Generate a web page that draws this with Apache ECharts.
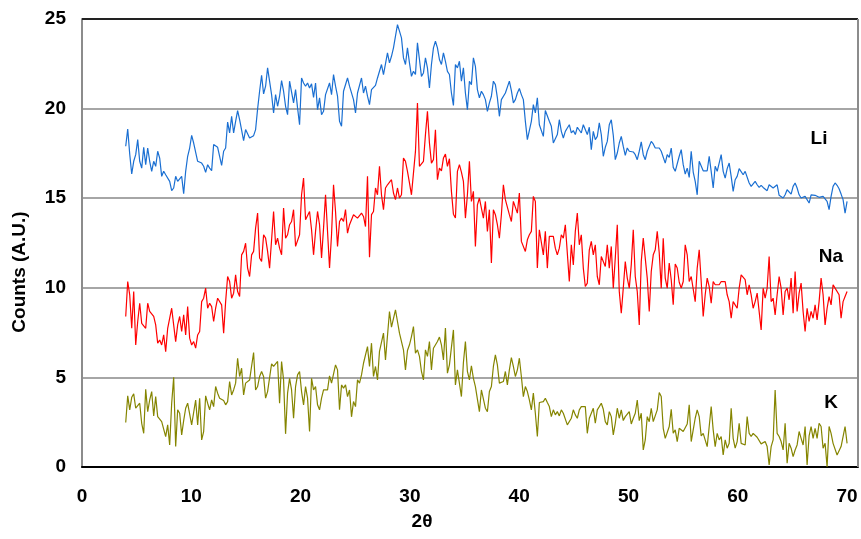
<!DOCTYPE html>
<html>
<head>
<meta charset="utf-8">
<script src="https://cdn.jsdelivr.net/npm/echarts@6/dist/echarts.min.js"></script>
<style>html,body{margin:0;padding:0;background:#fff}#c{width:861px;height:539px}</style>
</head>
<body>
<div id="c"></div>
<script>
// 2θ scan: from 4 to 70, evenly spaced samples
const scanStart = 4, scanEnd = 70;
const yTicks = [0, 5, 10, 15, 20, 25];
const xTicks = [0, 10, 20, 30, 40, 50, 60, 70];
const seriesNames = ['Li', 'Na', 'K'];

const liCounts = [
17.9,18.86,17.47,16.35,17.06,17.43,18.27,17.06,16.68,17.84,
16.87,17.8,17.06,16.5,17.06,16.78,17.62,17.24,16.22,16.5,
16.31,16.4,15.94,15.42,15.57,16.22,15.94,16.03,16.22,15.25,
16.5,17.34,17.8,18.51,18.08,18.17,17.06,17.06,16.96,16.78,
16.44,16.87,16.68,16.54,17.99,18.08,17.84,17.9,16.83,17.62,
17.8,19.25,18.64,19.57,18.64,19.29,19.89,19.38,19.44,18.21,
18.83,18.73,18.36,18.32,18.49,18.83,19.98,20.97,21.86,20.82,
21.25,22.27,22.23,20.78,19.76,20.78,20.13,20.69,21.56,20.97,
20.13,19.66,21.53,21.43,20.32,21.06,20.04,19.1,21.71,21.43,
21.25,21.43,21.15,21.38,20.63,21.43,19.94,20.6,
19.66,19.85,20.78,20.87,21.43,20.78,21.9,21.25,20.69,19.29,
19.01,20.97,20.97,21.71,21.25,21.25,20.5,19.76,20.87,20.78,
21.71,20.87,21.25,20.69,20.22,21.06,21.12,21.3,21.71,21.8,
22.46,21.9,21.8,23.11,22.55,22.92,23.39,24.04,24.69,24.32,
23.95,22.83,22.46,23.39,22.55,21.8,22.08,21.9,23.67,22.74,
21.8,21.99,22.83,22.27,21.15,22.46,23.39,23.76,23.39,22.74,
22.46,23.11,22.64,22.08,21.9,20.87,20.18,22.46,22.27,22.64,
21.53,22.27,20.87,19.94,21.53,21.34,22.83,22.36,21.06,20.6,
20.97,20.78,20.5,19.85,20.32,20.69,21.53,21.34,20.6,19.57,
20.5,20.41,20.87,20.87,21.53,
21.0,20.32,20.5,20.87,21.12,20.78,20.5,19.29,18.27,18.17,
19.29,20.22,19.76,20.6,19.1,19.1,18.45,19.89,19.94,19.29,
19.01,18.08,18.17,18.55,19.38,18.73,18.36,18.73,18.92,19.1,
18.64,18.77,18.55,18.96,19.01,18.64,19.1,19.07,18.55,18.96,
17.71,18.73,18.27,18.45,19.2,18.55,17.34,17.84,18.17,19.1,
19.38,18.51,17.15,17.52,18.08,18.45,17.89,17.39,17.8,17.62,
17.52,17.58,17.43,17.15,17.62,18.14,17.43,17.15,17.62,17.65,
18.17,18.03,17.8,17.76,17.8,17.62,17.62,16.96,17.43,17.28,
17.8,16.72,16.5,16.53,17.34,17.71,16.87,16.35,16.68,16.16,
17.62,16.46,15.94,15.19,17.06,
17.06,16.53,16.5,16.53,17.34,16.5,15.57,16.78,16.5,16.4,
17.43,16.5,16.12,16.65,16.96,16.22,15.38,16.03,16.22,16.65,
16.59,16.31,16.5,16.46,15.85,15.66,15.66,15.94,15.75,15.6,
15.72,15.6,15.57,15.42,15.75,15.72,15.57,15.6,15.75,15.16,
15.1,15.01,15.19,15.47,15.57,15.23,15.66,15.85,15.57,15.19,
15.01,15.1,15.1,15.19,14.73,15.19,15.16,15.16,15.19,15.05,
15.05,15.1,15.05,14.82,14.36,15.1,15.66,15.85,15.72,15.53,
15.23,14.92,14.17,14.82
];

const naCounts = [
8.4,10.35,9.61,7.74,9.79,6.81,8.12,9.14,8.02,7.93,
7.74,9.14,8.68,8.58,8.4,7.93,6.91,7.09,6.81,7.37,
6.44,7.74,7.65,8.86,8.95,7.0,7.93,8.4,7.56,8.49,
7.37,8.95,7.19,6.81,7.0,6.63,7.37,7.56,9.23,9.42,
9.98,8.86,9.14,8.95,8.12,8.86,9.42,9.33,9.05,7.47,
9.23,10.63,10.35,9.42,9.7,10.72,9.79,9.51,11.84,12.03,
12.49,11.1,10.63,11.84,12.03,13.33,14.17,11.66,11.47,12.96,
12.77,12.03,11.1,12.68,14.26,12.4,12.77,12.21,11.84,14.45,
12.77,12.96,13.52,13.7,14.36,12.31,12.21,12.96,15.19,16.12,
13.8,13.7,14.26,13.24,11.84,13.15,14.26,13.52,
11.66,13.33,15.19,15.1,11.1,12.96,15.75,14.26,12.31,13.7,
13.89,13.7,14.36,13.05,13.52,13.52,14.08,13.98,13.89,13.98,
14.17,13.98,13.42,16.22,11.7,14.08,14.26,15.57,15.19,16.78,
15.19,14.36,15.57,15.75,15.66,16.03,15.29,14.92,15.57,15.01,
15.19,17.24,17.06,16.5,15.85,15.19,16.4,17.61,20.31,16.78,
16.78,17.06,18.55,19.85,18.08,16.96,17.15,18.82,16.03,16.68,
16.53,17.24,17.46,16.78,17.2,15.38,14.11,13.89,16.5,16.87,
16.46,15.94,13.89,15.19,17.06,14.82,15.38,12.31,14.63,15.01,
14.45,13.89,14.82,13.15,14.36,11.38,14.36,14.08,13.52,12.77,
14.08,15.75,14.92,14.92,14.08,
13.7,14.82,14.92,14.17,15.29,12.59,12.59,12.03,12.68,12.96,
13.15,15.1,14.82,11.1,13.24,13.15,11.84,13.15,11.1,12.87,
12.81,12.87,12.21,11.84,12.21,12.96,12.77,13.52,13.52,10.35,
12.4,11.28,13.15,14.17,12.4,12.96,11.1,10.07,10.26,12.12,
12.59,11.84,12.4,10.63,10.17,11.75,11.75,11.19,12.4,11.1,
12.31,9.98,11.66,13.52,9.79,8.58,9.98,11.47,10.54,9.98,
11.28,13.24,10.63,9.79,7.93,11.47,12.77,12.77,10.54,8.68,
10.91,11.84,12.12,13.15,11.94,9.98,12.77,10.54,9.98,11.38,
10.45,9.05,11.32,11.1,10.31,9.98,10.35,12.4,11.84,10.35,
10.63,10.63,9.23,11.1,12.12,
10.35,8.4,9.61,10.54,10.07,9.14,10.35,10.17,10.17,10.17,
10.35,10.26,10.35,9.61,9.23,8.3,9.23,9.23,8.86,9.98,
10.72,10.72,10.45,9.61,10.17,9.61,8.86,9.23,9.7,9.61,
7.65,9.98,9.42,9.98,11.75,9.23,9.42,8.49,9.61,10.63,
9.98,8.49,9.79,9.98,9.33,10.54,8.58,10.91,8.68,9.7,
10.26,8.68,7.56,8.86,8.12,8.68,8.3,9.05,8.21,9.23,
10.54,9.61,7.93,8.86,9.51,9.05,10.17,9.98,9.89,9.61,
8.3,9.23,9.51,9.79
];

const kCounts = [
2.48,3.97,3.19,3.89,4.08,3.28,3.37,3.56,2.44,1.88,
4.34,3.09,3.74,4.21,2.85,3.93,2.81,2.81,2.53,2.44,
1.7,2.35,1.23,3.56,5.01,1.14,3.19,3.0,1.79,2.59,
3.28,3.56,3.47,2.35,2.35,3.74,2.35,3.84,1.51,1.98,
3.97,3.56,3.19,3.74,3.37,4.49,4.12,3.84,3.84,3.71,
3.47,3.65,4.77,4.02,4.3,4.68,6.07,5.05,5.51,4.02,
4.68,4.58,4.86,4.86,6.39,4.3,4.49,5.05,5.33,5.05,
3.84,4.21,4.21,5.76,5.61,5.51,5.89,3.56,5.89,4.86,
1.85,4.12,4.95,4.3,2.72,4.49,5.14,5.33,4.21,3.47,
4.49,3.84,1.98,4.95,4.3,4.49,3.47,3.19,
3.84,4.3,4.21,4.3,5.09,4.68,4.68,5.7,5.42,3.2,
4.58,4.4,4.58,3.93,4.3,2.8,3.65,3.37,4.86,4.68,
5.14,5.79,5.79,6.72,5.61,6.91,5.05,5.61,4.86,6.45,
6.45,7.47,5.98,6.07,8.68,7.8,7.75,8.77,8.12,7.47,
7.56,6.54,5.42,6.5,6.82,7.28,7.84,6.35,6.54,6.17,
5.33,4.86,6.54,6.17,7.0,5.42,6.63,6.63,7.0,7.25,
6.82,5.98,7.75,5.24,5.7,5.79,7.65,4.58,5.42,5.33,
3.93,5.83,7.0,5.33,4.86,5.65,4.95,4.49,4.58,3.09,
4.3,4.21,3.28,3.09,4.21,4.49,5.61,6.26,5.7,4.68,
4.68,4.77,5.33,4.58,5.42,
6.1,5.61,5.05,5.42,6.07,5.05,3.93,4.49,4.21,3.74,
3.19,4.12,3.0,1.7,3.6,3.56,3.65,3.84,3.6,3.37,
2.81,3.19,2.91,3.09,2.85,3.19,3.0,2.91,2.35,2.44,
2.72,3.19,2.91,2.72,3.19,3.37,3.37,3.37,1.88,2.72,
2.72,3.28,2.44,3.19,3.37,3.56,3.22,2.53,2.35,3.09,
2.81,1.79,2.44,3.28,2.72,3.19,2.59,2.81,2.78,3.09,
2.4,2.72,3.0,3.74,2.59,3.0,0.95,1.51,2.81,2.53,
3.28,2.53,2.59,3.19,4.16,3.93,2.16,1.6,1.66,2.26,
3.22,1.88,2.07,1.42,2.16,2.07,1.98,1.98,2.4,3.47,
1.42,2.07,2.72,3.19,2.81,
1.73,1.88,1.88,1.14,2.26,3.37,2.07,1.14,1.88,1.51,
1.7,0.67,1.51,1.05,1.32,3.28,1.6,1.05,1.42,2.44,
1.32,1.23,1.23,2.81,1.88,1.7,1.88,1.88,1.66,1.7,
1.29,1.32,1.42,1.14,0.11,1.14,1.51,4.3,1.88,1.7,
1.42,0.95,2.44,0.21,1.32,1.05,0.58,0.95,1.23,1.98,
1.6,1.23,2.26,0.11,1.73,2.26,1.6,2.16,1.6,2.44,
2.26,1.05,1.32,0.02,2.26,1.88,1.32,1.23,0.67,0.67,
1.14,1.7,2.26,1.32
];

function pairs(vals) {
  const step = (scanEnd - scanStart) / (vals.length - 1);
  return vals.map((v, i) => [scanStart + i * step, v]);
}

const FONT = '"Liberation Sans", Arial, sans-serif';
const chart = echarts.init(document.getElementById('c'), null, { renderer: 'canvas' });
const colors = ['#1a6fd2', '#ff0000', '#858500'];
const allSeries = [liCounts, naCounts, kCounts];

chart.setOption({
  animation: false,
  backgroundColor: '#ffffff',
  grid: { left: 82, right: 3, top: 19, bottom: 72, containLabel: false },
  xAxis: {
    type: 'value', min: 0, max: 71, interval: 10,
    axisLine: { show: true, lineStyle: { color: '#000', width: 2 } },
    axisTick: { show: false },
    splitLine: { show: false },
    axisLabel: {
      margin: 20, color: '#000', fontFamily: FONT, fontWeight: 'bold', fontSize: 19,
      formatter: v => (xTicks.indexOf(v) >= 0 ? String(v) : '')
    }
  },
  yAxis: {
    type: 'value', min: 0, max: 25, interval: 5,
    axisLine: { show: true, lineStyle: { color: '#8c8c8c', width: 2 } },
    axisTick: { show: false },
    splitLine: { show: true, lineStyle: { color: '#a6a6a6', width: 2 } },
    axisLabel: {
      margin: 16, color: '#000', fontFamily: FONT, fontWeight: 'bold', fontSize: 19,
      formatter: v => (yTicks.indexOf(v) >= 0 ? String(v) : '')
    }
  },
  series: allSeries.map((vals, i) => ({
    name: seriesNames[i],
    type: 'line',
    data: pairs(vals),
    showSymbol: false,
    symbol: 'none',
    lineStyle: { color: colors[i], width: 1.2 },
    itemStyle: { color: colors[i] },
    z: 3
  })),
  graphic: [
    { type: 'line', shape: { x1: 82, y1: 19, x2: 858, y2: 19 }, style: { stroke: '#222', lineWidth: 2 }, z: 10 },
    { type: 'line', shape: { x1: 858, y1: 19, x2: 858, y2: 467 }, style: { stroke: '#8c8c8c', lineWidth: 2 }, z: 10 },
    { type: 'text', x: 819, y: 139, style: { text: seriesNames[0], font: 'bold 19px ' + FONT, fill: '#000', textAlign: 'center', textVerticalAlign: 'middle' }, z: 10 },
    { type: 'text', x: 831, y: 257, style: { text: seriesNames[1], font: 'bold 19px ' + FONT, fill: '#000', textAlign: 'center', textVerticalAlign: 'middle' }, z: 10 },
    { type: 'text', x: 831, y: 403, style: { text: seriesNames[2], font: 'bold 19px ' + FONT, fill: '#000', textAlign: 'center', textVerticalAlign: 'middle' }, z: 10 },
    { type: 'text', x: 422, y: 522, style: { text: '2θ', font: 'bold 19px ' + FONT, fill: '#000', textAlign: 'center', textVerticalAlign: 'middle' }, z: 10 },
    { type: 'text', x: 20, y: 272, rotation: Math.PI / 2, style: { text: 'Counts (A.U.)', font: 'bold 19px ' + FONT, fill: '#000', textAlign: 'center', textVerticalAlign: 'middle' }, z: 10 }
  ]
});
</script>
</body>
</html>
